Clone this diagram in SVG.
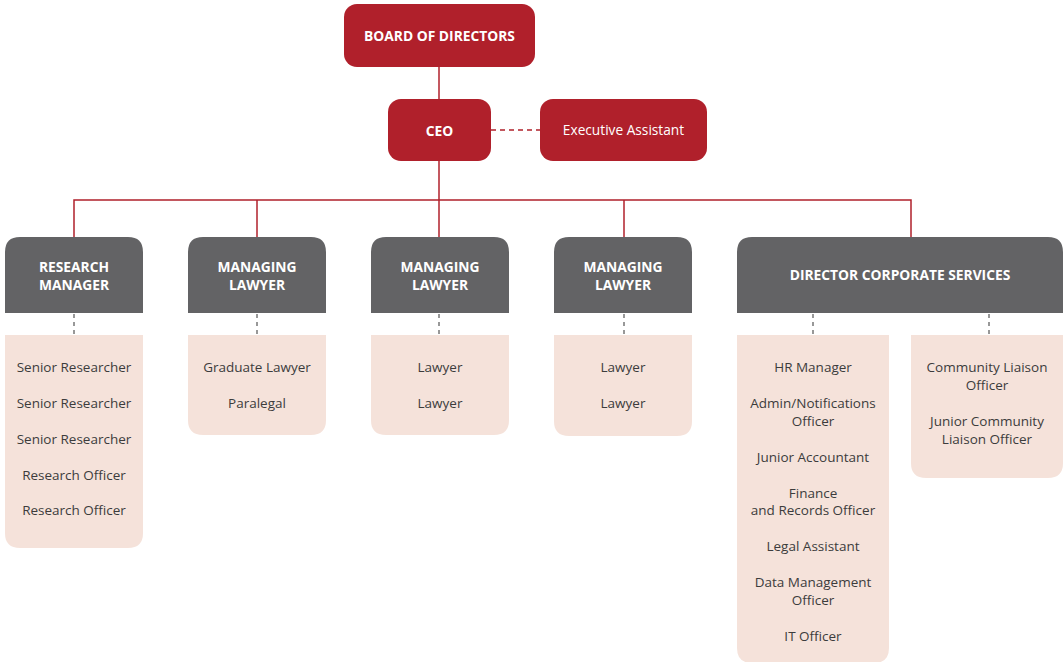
<svg xmlns="http://www.w3.org/2000/svg" width="1064" height="662" viewBox="0 0 1064 662">
<style>
.red{fill:#b0202b}
.mgr{fill:#636365}
.sub{fill:#f5e2da}
.tw{font-family:"Open Sans","Noto Sans",sans-serif;font-size:13.7px;fill:#fff;text-anchor:middle}
.tb{font-weight:bold;font-size:13.8px}
.ts{font-family:"Open Sans","Noto Sans",sans-serif;font-size:13.5px;fill:#3c3c3c;text-anchor:middle}
.ln{stroke:#b0202b;stroke-width:1.5;fill:none}
.dr{stroke:#b0202b;stroke-width:1.5;fill:none;stroke-dasharray:5 4}
.dg{stroke:#777;stroke-width:1.5;fill:none;stroke-dasharray:4 4}
</style>
<g id="connectors">
<line class="ln" x1="439" y1="67" x2="439" y2="99"/>
<line class="ln" x1="439" y1="161" x2="439" y2="200"/>
<line class="dr" x1="491" y1="130" x2="540" y2="130"/>
<polyline class="ln" points="74,237 74,200 911,200 911,237"/>
<line class="ln" x1="257" y1="200" x2="257" y2="237"/>
<line class="ln" x1="439" y1="200" x2="439" y2="237"/>
<line class="ln" x1="624" y1="200" x2="624" y2="237"/>
<line class="dg" x1="74" y1="314" x2="74" y2="335"/>
<line class="dg" x1="257" y1="314" x2="257" y2="335"/>
<line class="dg" x1="439" y1="314" x2="439" y2="335"/>
<line class="dg" x1="624" y1="314" x2="624" y2="335"/>
<line class="dg" x1="813" y1="314" x2="813" y2="335"/>
<line class="dg" x1="989" y1="314" x2="989" y2="335"/>
</g>
<g id="board">
<rect class="red" x="344" y="4" width="191" height="63" rx="13"/>
<text class="tw tb" x="439.5" y="41">BOARD OF DIRECTORS</text>
</g>
<g id="ceo">
<rect class="red" x="388" y="99" width="103" height="62" rx="13"/>
<text class="tw tb" x="439.5" y="136">CEO</text>
</g>
<g id="exec-assistant">
<rect class="red" x="540" y="99" width="167" height="62" rx="13"/>
<text class="tw" x="623.5" y="135">Executive Assistant</text>
</g>
<g id="research-manager">
<path class="mgr" d="M5,313 V252 Q5,237 20,237 H128 Q143,237 143,252 V313 Z"/>
<text class="tw tb" x="74" y="272">RESEARCH</text>
<text class="tw tb" x="74" y="290">MANAGER</text>
</g>
<g id="managing-lawyer-1">
<path class="mgr" d="M188,313 V252 Q188,237 203,237 H311 Q326,237 326,252 V313 Z"/>
<text class="tw tb" x="257" y="272">MANAGING</text>
<text class="tw tb" x="257" y="290">LAWYER</text>
</g>
<g id="managing-lawyer-2">
<path class="mgr" d="M371,313 V252 Q371,237 386,237 H494 Q509,237 509,252 V313 Z"/>
<text class="tw tb" x="440" y="272">MANAGING</text>
<text class="tw tb" x="440" y="290">LAWYER</text>
</g>
<g id="managing-lawyer-3">
<path class="mgr" d="M554,313 V252 Q554,237 569,237 H677 Q692,237 692,252 V313 Z"/>
<text class="tw tb" x="623" y="272">MANAGING</text>
<text class="tw tb" x="623" y="290">LAWYER</text>
</g>
<g id="director-corporate-services">
<path class="mgr" d="M737,313 V252 Q737,237 752,237 H1048 Q1063,237 1063,252 V313 Z"/>
<text class="tw tb" x="900" y="280">DIRECTOR CORPORATE SERVICES</text>
</g>
<g id="research-team">
<path class="sub" d="M5,335 H143 V533 Q143,548 128,548 H20 Q5,548 5,533 Z"/>
<text class="ts" x="74" y="372">Senior Researcher</text>
<text class="ts" x="74" y="408">Senior Researcher</text>
<text class="ts" x="74" y="444">Senior Researcher</text>
<text class="ts" x="74" y="480">Research Officer</text>
<text class="ts" x="74" y="515">Research Officer</text>
</g>
<g id="lawyer-team-1">
<path class="sub" d="M188,335 H326 V420 Q326,435 311,435 H203 Q188,435 188,420 Z"/>
<text class="ts" x="257" y="372">Graduate Lawyer</text>
<text class="ts" x="257" y="408">Paralegal</text>
</g>
<g id="lawyer-team-2">
<path class="sub" d="M371,335 H509 V420 Q509,435 494,435 H386 Q371,435 371,420 Z"/>
<text class="ts" x="440" y="372">Lawyer</text>
<text class="ts" x="440" y="408">Lawyer</text>
</g>
<g id="lawyer-team-3">
<path class="sub" d="M554,335 H692 V421 Q692,436 677,436 H569 Q554,436 554,421 Z"/>
<text class="ts" x="623" y="372">Lawyer</text>
<text class="ts" x="623" y="408">Lawyer</text>
</g>
<g id="corporate-team">
<path class="sub" d="M737,335 H889 V648 Q889,663 874,663 H752 Q737,663 737,648 Z"/>
<text class="ts" x="813" y="372">HR Manager</text>
<text class="ts" x="813" y="408">Admin/Notifications</text>
<text class="ts" x="813" y="426">Officer</text>
<text class="ts" x="813" y="462">Junior Accountant</text>
<text class="ts" x="813" y="498">Finance</text>
<text class="ts" x="813" y="515">and Records Officer</text>
<text class="ts" x="813" y="551">Legal Assistant</text>
<text class="ts" x="813" y="587">Data Management</text>
<text class="ts" x="813" y="605">Officer</text>
<text class="ts" x="813" y="641">IT Officer</text>
</g>
<g id="community-team">
<path class="sub" d="M911,335 H1063 V463 Q1063,478 1048,478 H926 Q911,478 911,463 Z"/>
<text class="ts" x="987" y="372">Community Liaison</text>
<text class="ts" x="987" y="390">Officer</text>
<text class="ts" x="987" y="426">Junior Community</text>
<text class="ts" x="987" y="444">Liaison Officer</text>
</g>
</svg>
